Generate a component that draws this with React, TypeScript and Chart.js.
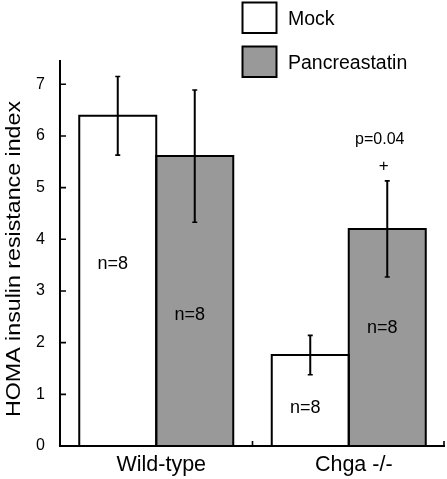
import React, { useEffect, useRef } from "react";
import { Chart, registerables } from "chart.js";

Chart.register(...registerables);

const categories = ["Wild-type", "Chga -/-"];
const seriesNames = ["Mock", "Pancreastatin"];
const mockValues = [6.39, 1.76];
const pancValues = [5.61, 4.2];
const mockErrors = [0.76, 0.38];
const pancErrors = [1.28, 0.93];
const sampleLabels = ["n=8", "n=8"];
const mockLabelValues = [3.52, 0.74];
const pancLabelValues = [2.54, 2.29];
const pValueText = "p=0.04";
const pValueAt = 5.93;
const plusText = "+";
const plusAt = 5.42;
const yMax = 7.47;
const yTitle = "HOMA insulin resistance index";

const FONT = "'Liberation Sans', Arial, Helvetica, sans-serif";
const INK = "#000000";
const fills = ["#ffffff", "#999999"];

const overlay = {
  id: "overlay",
  afterDatasetsDraw(chart: any) {
    const ctx = chart.ctx as CanvasRenderingContext2D;
    const area = chart.chartArea;
    const xs = chart.scales.x;
    const ys = chart.scales.y;
    const errs = [mockErrors, pancErrors];
    const labVals = [mockLabelValues, pancLabelValues];
    ctx.save();
    ctx.strokeStyle = INK;
    ctx.fillStyle = INK;
    // bar outlines
    chart.data.datasets.forEach((ds: any, di: number) => {
      const meta = chart.getDatasetMeta(di);
      meta.data.forEach((bar: any) => {
        const w = bar.width;
        ctx.lineWidth = 2;
        ctx.beginPath();
        ctx.moveTo(bar.x - w / 2, bar.base);
        ctx.lineTo(bar.x - w / 2, bar.y);
        ctx.lineTo(bar.x + w / 2, bar.y);
        ctx.lineTo(bar.x + w / 2, bar.base);
        ctx.stroke();
      });
    });
    // error bars + n labels
    chart.data.datasets.forEach((ds: any, di: number) => {
      const meta = chart.getDatasetMeta(di);
      meta.data.forEach((bar: any, i: number) => {
        const v = ds.data[i];
        const e = errs[di][i];
        const yTop = ys.getPixelForValue(v + e);
        const yBot = ys.getPixelForValue(v - e);
        ctx.lineWidth = 2;
        ctx.beginPath();
        ctx.moveTo(bar.x, yTop);
        ctx.lineTo(bar.x, yBot);
        ctx.stroke();
        ctx.lineWidth = 1.6;
        ctx.beginPath();
        ctx.moveTo(bar.x - 2.5, yTop);
        ctx.lineTo(bar.x + 2.5, yTop);
        ctx.moveTo(bar.x - 2.5, yBot);
        ctx.lineTo(bar.x + 2.5, yBot);
        ctx.stroke();
        ctx.font = `18px ${FONT}`;
        ctx.textAlign = "center";
        ctx.textBaseline = "middle";
        ctx.fillText(sampleLabels[i], bar.x - 5, ys.getPixelForValue(labVals[di][i]));
      });
    });
    // significance annotation on Chga pancreastatin bar
    const pb = chart.getDatasetMeta(1).data[1];
    ctx.font = `16px ${FONT}`;
    ctx.textAlign = "center";
    ctx.textBaseline = "middle";
    ctx.fillText(pValueText, pb.x - 7.5, ys.getPixelForValue(pValueAt));
    ctx.font = `17px ${FONT}`;
    ctx.fillText(plusText, pb.x - 3.5, ys.getPixelForValue(plusAt));
    // axes
    ctx.lineWidth = 2;
    ctx.beginPath();
    ctx.moveTo(area.left, area.top);
    ctx.lineTo(area.left, area.bottom);
    ctx.lineTo(area.right, area.bottom);
    ctx.stroke();
    ctx.lineWidth = 1.6;
    ctx.beginPath();
    for (let t = 1; t <= Math.floor(yMax); t++) {
      const py = ys.getPixelForValue(t);
      ctx.moveTo(area.left, py);
      ctx.lineTo(area.left + 6, py);
    }
    const mid = (xs.getPixelForTick(0) + xs.getPixelForTick(1)) / 2;
    ctx.moveTo(mid, area.bottom);
    ctx.lineTo(mid, area.bottom - 5);
    ctx.moveTo(area.right - 1, area.bottom);
    ctx.lineTo(area.right - 1, area.bottom - 5);
    ctx.stroke();
    // y title (slightly stretched along its length as in the original)
    ctx.save();
    ctx.translate(15, (area.top + area.bottom) / 2 + 6);
    ctx.rotate(-Math.PI / 2);
    ctx.scale(1.19, 1);
    ctx.font = `19.5px ${FONT}`;
    ctx.textAlign = "center";
    ctx.textBaseline = "middle";
    ctx.fillText(yTitle, 0, 0);
    ctx.restore();
    // legend
    chart.data.datasets.forEach((ds: any, di: number) => {
      const by = 2.5 + di * 44;
      ctx.fillStyle = ds.backgroundColor;
      ctx.fillRect(242.5, by, 34, 30.5);
      ctx.lineWidth = 2;
      ctx.strokeStyle = INK;
      ctx.strokeRect(242.5, by, 34, 30.5);
      ctx.fillStyle = INK;
      ctx.font = `19.5px ${FONT}`;
      ctx.textAlign = "left";
      ctx.textBaseline = "middle";
      ctx.fillText(ds.label, 288, by + 17);
    });
    ctx.restore();
  },
};

export default function App() {
  const ref = useRef<HTMLCanvasElement | null>(null);
  useEffect(() => {
    if (!ref.current) return;
    const chart = new Chart(ref.current, {
      type: "bar",
      data: {
        labels: categories,
        datasets: [
          { label: seriesNames[0], data: mockValues, backgroundColor: fills[0], borderWidth: 0 },
          { label: seriesNames[1], data: pancValues, backgroundColor: fills[1], borderWidth: 0 },
        ],
      },
      options: {
        animation: false,
        responsive: false,
        devicePixelRatio: 1,
        layout: { padding: { top: 60, right: 2, left: 0, bottom: 0 } },
        datasets: { bar: { categoryPercentage: 0.8, barPercentage: 1.0 } },
        plugins: { legend: { display: false }, tooltip: { enabled: false }, title: { display: false } },
        scales: {
          x: {
            grid: { display: false, drawTicks: false },
            border: { display: false },
            ticks: { color: INK, font: { size: 21.5, family: FONT }, padding: 6, labelOffset: 5 },
            afterFit: (s: any) => { s.height = 33; },
          },
          y: {
            min: 0,
            max: yMax,
            grid: { display: false, drawTicks: false },
            border: { display: false },
            ticks: {
              stepSize: 1,
              includeBounds: false,
              color: INK,
              font: { size: 16, family: FONT },
              padding: 15,
              callback: (v: any) => (Number.isInteger(v) ? String(v) : ""),
            },
            afterFit: (s: any) => { s.width = 60; },
          },
        },
      },
      plugins: [overlay],
    } as any);
    return () => chart.destroy();
  }, []);
  return (
    <div style={{ position: "absolute", left: 0, top: 0, width: 447, height: 479, background: "#fff" }}>
      <canvas ref={ref} width={447} height={479} style={{ width: 447, height: 479 }} />
    </div>
  );
}
